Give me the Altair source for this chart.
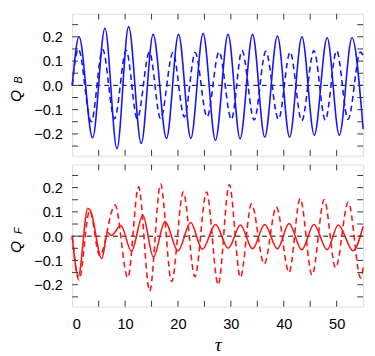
import altair as alt
import pandas as pd

# ---- data ----
# Top panel, Q_B (blue)
tau_b_solid = [0, 1.29, 3.86, 6.19, 8.46, 10.66, 13.05, 15.3, 17.83, 20.1, 22.43, 24.75,
               27.08, 29.47, 31.74, 34.1, 36.4, 38.8, 41.1, 43.43, 45.77, 48.2, 50.5, 52.9, 55]
qb_solid = [0.0, 0.20, -0.216, 0.235, -0.261, 0.242, -0.239, 0.21, -0.218, 0.21, -0.218, 0.213,
            -0.226, 0.21, -0.22, 0.21, -0.213, 0.203, -0.213, 0.2, -0.205, 0.196, -0.205, 0.196, -0.18]

tau_b_dash = [0, 1.16, 3.6, 5.75, 8.0, 10.2, 12.3, 14.6, 16.7, 19.05, 21.2, 23.25, 25.5,
              27.76, 30.1, 32.1, 34.4, 36.6, 39.0, 41.2, 43.4, 45.7, 47.85, 50.0, 52.15, 54.5, 55]
qb_dash = [0.0, 0.15, -0.15, 0.148, -0.137, 0.144, -0.137, 0.137, -0.137, 0.135, -0.13, 0.135, -0.13,
           0.138, -0.14, 0.143, -0.143, 0.14, -0.14, 0.137, -0.146, 0.143, -0.143, 0.143, -0.14, 0.137, 0.125]

# Bottom panel, Q_F (red)
tau_f_solid = [0, 1.15, 2.95, 3.45, 5.6, 6.7, 7.4, 9.2, 11.2, 13.35, 15.35, 17.55, 20.0, 22.4,
               24.6, 27.1, 29.5, 31.8, 34.1, 36.4, 38.8, 41.0, 43.4, 45.7, 48.2, 50.3, 53.1, 55]
qf_solid = [0.0, -0.165, 0.115, 0.105, -0.092, 0.015, 0.003, 0.044, -0.062, 0.086, -0.086, 0.06,
            -0.06, 0.056, -0.054, 0.048, -0.05, 0.046, -0.052, 0.048, -0.052, 0.052, -0.056,
            0.048, -0.056, 0.046, -0.06, 0.04]

tau_f_dash = [0, 1.28, 3.3, 5.2, 8.1, 10.5, 12.55, 14.65, 16.7, 18.8, 21.0, 23.2, 25.4, 27.6,
              29.7, 31.8, 33.9, 36.3, 38.6, 41.0, 43.1, 45.35, 47.65, 49.8, 52.2, 54.55, 55]
qf_dash = [0.0, -0.18, 0.105, -0.08, 0.128, -0.171, 0.203, -0.226, 0.215, -0.187, 0.182, -0.167,
           0.182, -0.2, 0.212, -0.17, 0.133, -0.115, 0.12, -0.15, 0.155, -0.16, 0.15, -0.13,
           0.14, -0.172, -0.13]

x_tick_vals = [5, 10, 15, 20, 25, 30, 35, 40, 45, 50]
y_tick_vals = [-0.25, -0.2, -0.15, -0.1, -0.05, 0.0, 0.05, 0.1, 0.15, 0.2, 0.25]
x_label_vals = [0, 10, 20, 30, 40, 50]
y_label_vals = [-0.2, -0.1, 0.0, 0.1, 0.2]

# ---- layout ----
W, H = 299, 146
XDOM = [0, 55]
YDOM = [-0.29, 0.295]
TICK = 6
FONT = "Liberation Sans"
zero_px = H * YDOM[1] / (YDOM[1] - YDOM[0])

xscale = alt.Scale(domain=XDOM, nice=False, zero=False)
yscale = alt.Scale(domain=YDOM, nice=False, zero=False)

y_axis = alt.Axis(values=y_label_vals, format=".1f", ticks=False, domain=False, grid=False,
                  labelPadding=10, labelFontSize=15, labelFont=FONT, labelColor="black",
                  title=None)
x_axis_top = alt.Axis(labels=False, ticks=False, domain=False, grid=False, title=None)
x_axis_bot = alt.Axis(values=x_label_vals, format="d", ticks=False, domain=False, grid=False,
                      labelPadding=11, labelFontSize=15, labelFont=FONT, labelColor="black",
                      title="τ", titleFont="Liberation Serif", titleFontStyle="italic",
                      titleFontWeight="normal", titleFontSize=20, titleColor="black",
                      titlePadding=3)


def panel(ts, vs, td, vd, color, sub, x_axis):
    X = lambda: alt.X("tau:Q", scale=xscale, axis=x_axis)
    Y = lambda: alt.Y("q:Q", scale=yscale, axis=y_axis)

    df_s = pd.DataFrame({"tau": ts, "q": vs})
    df_d = pd.DataFrame({"tau": td, "q": vd})
    solid = alt.Chart(df_s).mark_line(color=color, strokeWidth=1.6, interpolate="monotone").encode(
        x=X(), y=Y())
    dashed = alt.Chart(df_d).mark_line(color=color, strokeWidth=1.6, strokeDash=[6, 4],
                                       interpolate="monotone").encode(x=X(), y=Y())

    zero = alt.Chart(pd.DataFrame({"q": [0.0]})).mark_rule(
        color="black", strokeWidth=1, strokeDash=[5, 4]).encode(y=Y())

    ydf = pd.DataFrame({"q": y_tick_vals})
    xdf = pd.DataFrame({"tau": x_tick_vals})
    tick_style = dict(color="#333", strokeWidth=1)
    yl = alt.Chart(ydf).mark_rule(**tick_style).encode(y=Y(), x=alt.value(0), x2=alt.value(TICK))
    yr = alt.Chart(ydf).mark_rule(**tick_style).encode(y=Y(), x=alt.value(W), x2=alt.value(W - TICK))
    xb = alt.Chart(xdf).mark_rule(**tick_style).encode(x=X(), y=alt.value(H), y2=alt.value(H - TICK))
    xt = alt.Chart(xdf).mark_rule(**tick_style).encode(x=X(), y=alt.value(0), y2=alt.value(TICK))

    qtxt = alt.Chart(pd.DataFrame({"t": ["Q"]})).mark_text(
        font=FONT, fontStyle="italic", fontSize=16, angle=270, align="center",
        baseline="middle", color="black").encode(
        text="t:N", x=alt.value(-57.5), y=alt.value(zero_px + 11))
    stxt = alt.Chart(pd.DataFrame({"t": [sub]})).mark_text(
        font=FONT, fontStyle="italic", fontSize=11, angle=270, align="center",
        baseline="middle", color="black").encode(
        text="t:N", x=alt.value(-54.5), y=alt.value(zero_px - 5.5))

    return alt.layer(zero, dashed, solid, yl, yr, xb, xt, qtxt, stxt).properties(width=W, height=H)


top = panel(tau_b_solid, qb_solid, tau_b_dash, qb_dash, "#1414ff", "B", x_axis_top)
bot = panel(tau_f_solid, qf_solid, tau_f_dash, qf_dash, "#ff1414", "F", x_axis_bot)

chart = alt.vconcat(top, bot, spacing=7).properties(
    padding={"left": 0, "top": 0, "right": 0, "bottom": 0}
).configure_view(stroke="#555", strokeWidth=1.5).configure(background="white")

chart.save("out.html", embed_options={"renderer": "svg", "actions": False})
